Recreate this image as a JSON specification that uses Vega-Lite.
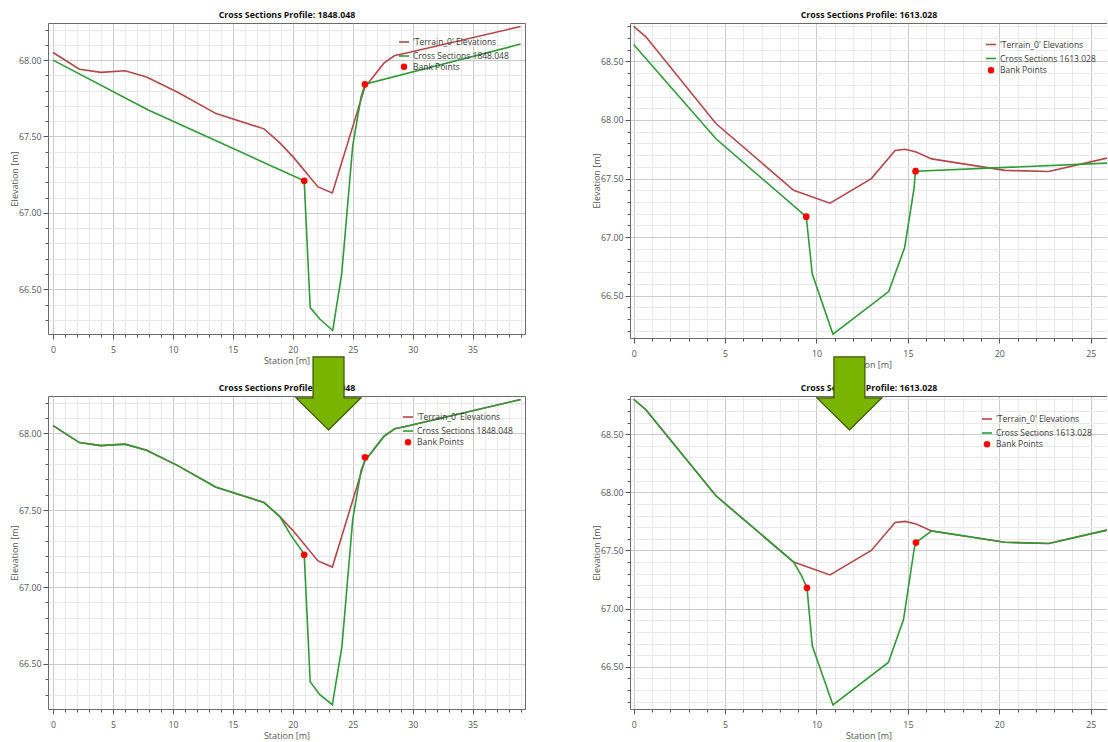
{
  "$schema": "https://vega.github.io/schema/vega-lite/v6.json",
  "background": "white",
  "padding": {"left": 10, "top": 10, "right": 0, "bottom": 0},
  "bounds": "flush",
  "columns": 2,
  "spacing": {"row": 58, "column": 105},
  "resolve": {"scale": {"color": "independent", "shape": "independent"}, "legend": {"color": "independent", "shape": "independent"}},
  "config": {
    "view": {"stroke": null},
    "font": "Open Sans",
    "axis": {"labelFont": "Open Sans", "titleFont": "Open Sans", "labelColor": "#555555", "titleColor": "#555555", "tickColor": "#555555", "domainColor": "#6a6a6a", "labelFontSize": 8.8, "titleFontSize": 9, "titleFontWeight": "normal", "zindex": 0},
    "legend": {"labelFont": "Open Sans", "labelFontSize": 8.5, "labelColor": "#3a3a3a", "rowPadding": 3, "labelOffset": 3, "padding": 0}
  },
  "datasets": {
    "terrain_1848": [
      {"series": "'Terrain_0' Elevations", "station": 0, "elev": 68.05},
      {"series": "'Terrain_0' Elevations", "station": 2.2, "elev": 67.94},
      {"series": "'Terrain_0' Elevations", "station": 4.0, "elev": 67.92},
      {"series": "'Terrain_0' Elevations", "station": 6.0, "elev": 67.93},
      {"series": "'Terrain_0' Elevations", "station": 7.8, "elev": 67.89},
      {"series": "'Terrain_0' Elevations", "station": 10.4, "elev": 67.79},
      {"series": "'Terrain_0' Elevations", "station": 13.6, "elev": 67.65},
      {"series": "'Terrain_0' Elevations", "station": 17.6, "elev": 67.55},
      {"series": "'Terrain_0' Elevations", "station": 18.9, "elev": 67.46},
      {"series": "'Terrain_0' Elevations", "station": 20.1, "elev": 67.36},
      {"series": "'Terrain_0' Elevations", "station": 22.1, "elev": 67.17},
      {"series": "'Terrain_0' Elevations", "station": 23.3, "elev": 67.13},
      {"series": "'Terrain_0' Elevations", "station": 26.0, "elev": 67.82},
      {"series": "'Terrain_0' Elevations", "station": 27.6, "elev": 67.98},
      {"series": "'Terrain_0' Elevations", "station": 28.5, "elev": 68.03},
      {"series": "'Terrain_0' Elevations", "station": 29.4, "elev": 68.045},
      {"series": "'Terrain_0' Elevations", "station": 39.0, "elev": 68.22}
    ],
    "xs_1848_before": [
      {"series": "Cross Sections 1848.048", "station": 0, "elev": 68.0},
      {"series": "Cross Sections 1848.048", "station": 7.9, "elev": 67.675},
      {"series": "Cross Sections 1848.048", "station": 20.95, "elev": 67.21},
      {"series": "Cross Sections 1848.048", "station": 21.45, "elev": 66.38},
      {"series": "Cross Sections 1848.048", "station": 22.25, "elev": 66.305},
      {"series": "Cross Sections 1848.048", "station": 23.33, "elev": 66.23},
      {"series": "Cross Sections 1848.048", "station": 24.08, "elev": 66.6},
      {"series": "Cross Sections 1848.048", "station": 25.0, "elev": 67.44},
      {"series": "Cross Sections 1848.048", "station": 25.7, "elev": 67.76},
      {"series": "Cross Sections 1848.048", "station": 26.02, "elev": 67.842},
      {"series": "Cross Sections 1848.048", "station": 39.0, "elev": 68.105}
    ],
    "bank_1848_before": [
      {"series": "Bank Points", "station": 20.95, "elev": 67.21},
      {"series": "Bank Points", "station": 26.02, "elev": 67.842}
    ],
    "xs_1848_after": [
      {"series": "Cross Sections 1848.048", "station": 0, "elev": 68.05},
      {"series": "Cross Sections 1848.048", "station": 2.2, "elev": 67.94},
      {"series": "Cross Sections 1848.048", "station": 4.0, "elev": 67.92},
      {"series": "Cross Sections 1848.048", "station": 6.0, "elev": 67.93},
      {"series": "Cross Sections 1848.048", "station": 7.8, "elev": 67.89},
      {"series": "Cross Sections 1848.048", "station": 10.4, "elev": 67.79},
      {"series": "Cross Sections 1848.048", "station": 13.6, "elev": 67.65},
      {"series": "Cross Sections 1848.048", "station": 17.6, "elev": 67.55},
      {"series": "Cross Sections 1848.048", "station": 18.9, "elev": 67.46},
      {"series": "Cross Sections 1848.048", "station": 19.9, "elev": 67.33},
      {"series": "Cross Sections 1848.048", "station": 20.95, "elev": 67.215},
      {"series": "Cross Sections 1848.048", "station": 21.45, "elev": 66.385},
      {"series": "Cross Sections 1848.048", "station": 22.25, "elev": 66.3},
      {"series": "Cross Sections 1848.048", "station": 23.3, "elev": 66.235},
      {"series": "Cross Sections 1848.048", "station": 24.1, "elev": 66.615},
      {"series": "Cross Sections 1848.048", "station": 25.0, "elev": 67.44},
      {"series": "Cross Sections 1848.048", "station": 25.7, "elev": 67.76},
      {"series": "Cross Sections 1848.048", "station": 26.0, "elev": 67.82},
      {"series": "Cross Sections 1848.048", "station": 27.6, "elev": 67.98},
      {"series": "Cross Sections 1848.048", "station": 28.5, "elev": 68.03},
      {"series": "Cross Sections 1848.048", "station": 29.4, "elev": 68.045},
      {"series": "Cross Sections 1848.048", "station": 39.0, "elev": 68.22}
    ],
    "bank_1848_after": [
      {"series": "Bank Points", "station": 20.95, "elev": 67.21},
      {"series": "Bank Points", "station": 26.03, "elev": 67.844}
    ],
    "arrow_left": [
      {"station": 22.98, "elev": 68.022}
    ],
    "terrain_1613": [
      {"series": "'Terrain_0' Elevations", "station": 0, "elev": 68.8},
      {"series": "'Terrain_0' Elevations", "station": 0.67, "elev": 68.71},
      {"series": "'Terrain_0' Elevations", "station": 4.5, "elev": 67.97},
      {"series": "'Terrain_0' Elevations", "station": 8.75, "elev": 67.4},
      {"series": "'Terrain_0' Elevations", "station": 10.74, "elev": 67.29},
      {"series": "'Terrain_0' Elevations", "station": 13.0, "elev": 67.5},
      {"series": "'Terrain_0' Elevations", "station": 14.3, "elev": 67.74},
      {"series": "'Terrain_0' Elevations", "station": 14.85, "elev": 67.75},
      {"series": "'Terrain_0' Elevations", "station": 15.45, "elev": 67.727},
      {"series": "'Terrain_0' Elevations", "station": 16.3, "elev": 67.668},
      {"series": "'Terrain_0' Elevations", "station": 20.3, "elev": 67.57},
      {"series": "'Terrain_0' Elevations", "station": 22.7, "elev": 67.56},
      {"series": "'Terrain_0' Elevations", "station": 25.89, "elev": 67.675}
    ],
    "xs_1613_before": [
      {"series": "Cross Sections 1613.028", "station": 0, "elev": 68.645},
      {"series": "Cross Sections 1613.028", "station": 4.5, "elev": 67.84},
      {"series": "Cross Sections 1613.028", "station": 9.44, "elev": 67.175},
      {"series": "Cross Sections 1613.028", "station": 9.77, "elev": 66.685},
      {"series": "Cross Sections 1613.028", "station": 10.9, "elev": 66.172},
      {"series": "Cross Sections 1613.028", "station": 13.95, "elev": 66.535},
      {"series": "Cross Sections 1613.028", "station": 14.82, "elev": 66.91},
      {"series": "Cross Sections 1613.028", "station": 15.33, "elev": 67.41},
      {"series": "Cross Sections 1613.028", "station": 15.42, "elev": 67.563},
      {"series": "Cross Sections 1613.028", "station": 25.89, "elev": 67.632}
    ],
    "bank_1613_before": [
      {"series": "Bank Points", "station": 9.44, "elev": 67.175},
      {"series": "Bank Points", "station": 15.42, "elev": 67.563}
    ],
    "xs_1613_after": [
      {"series": "Cross Sections 1613.028", "station": 0, "elev": 68.8},
      {"series": "Cross Sections 1613.028", "station": 0.67, "elev": 68.71},
      {"series": "Cross Sections 1613.028", "station": 4.5, "elev": 67.97},
      {"series": "Cross Sections 1613.028", "station": 8.75, "elev": 67.4},
      {"series": "Cross Sections 1613.028", "station": 9.19, "elev": 67.28},
      {"series": "Cross Sections 1613.028", "station": 9.48, "elev": 67.18},
      {"series": "Cross Sections 1613.028", "station": 9.77, "elev": 66.68},
      {"series": "Cross Sections 1613.028", "station": 10.9, "elev": 66.172},
      {"series": "Cross Sections 1613.028", "station": 13.93, "elev": 66.537},
      {"series": "Cross Sections 1613.028", "station": 14.76, "elev": 66.906},
      {"series": "Cross Sections 1613.028", "station": 15.34, "elev": 67.51},
      {"series": "Cross Sections 1613.028", "station": 15.44, "elev": 67.568},
      {"series": "Cross Sections 1613.028", "station": 16.3, "elev": 67.668},
      {"series": "Cross Sections 1613.028", "station": 20.3, "elev": 67.57},
      {"series": "Cross Sections 1613.028", "station": 22.7, "elev": 67.56},
      {"series": "Cross Sections 1613.028", "station": 25.89, "elev": 67.675}
    ],
    "bank_1613_after": [
      {"series": "Bank Points", "station": 9.48, "elev": 67.179},
      {"series": "Bank Points", "station": 15.44, "elev": 67.568}
    ],
    "arrow_right": [
      {"station": 11.8, "elev": 68.536}
    ]
  },
  "concat": [
    {
      "width": 477, "height": 311,
      "layer": [
        {
          "data": {"name": "terrain_1848"},
          "mark": {"type": "line", "strokeWidth": 1.6, "clip": true},
          "encoding": {
            "x": {"field": "station", "type": "quantitative", "scale": {"domain": [-0.42, 39.37], "nice": false, "zero": false},
              "axis": {"orient": "bottom", "values": [0,1,2,3,4,5,6,7,8,9,10,11,12,13,14,15,16,17,18,19,20,21,22,23,24,25,26,27,28,29,30,31,32,33,34,35,36,37,38,39], "labels": false, "title": null, "grid": true, "gridColor": "#e9e9e9", "tickSize": 3, "domain": false}},
            "y": {"field": "elev", "type": "quantitative", "scale": {"domain": [66.207, 68.243], "nice": false, "zero": false},
              "axis": {"orient": "left", "values": [66.3,66.4,66.5,66.6,66.7,66.8,66.9,67.0,67.1,67.2,67.3,67.4,67.5,67.6,67.7,67.8,67.9,68.0,68.1,68.2], "labels": false, "title": null, "grid": true, "gridColor": "#e9e9e9", "tickSize": 3, "domain": false}},
            "color": {"field": "series", "type": "nominal",
              "scale": {"domain": ["'Terrain_0' Elevations", "Cross Sections 1848.048"], "range": ["#B4474B", "#2F9B37"]},
              "legend": {"orient": "none", "legendX": 350, "legendY": 13, "title": null, "symbolType": "stroke", "symbolSize": 100, "symbolStrokeWidth": 1.6}}
          }
        },
        {
          "data": {"name": "xs_1848_before"},
          "mark": {"type": "line", "strokeWidth": 1.6, "clip": true},
          "encoding": {
            "x": {"field": "station", "type": "quantitative", "scale": {"domain": [-0.42, 39.37], "nice": false, "zero": false},
              "axis": {"orient": "bottom", "values": [0,5,10,15,20,25,30,35], "grid": true, "gridColor": "#cacaca", "tickSize": 5, "labelPadding": 6, "title": "Station [m]", "titleY": 29.5, "titleBaseline": "alphabetic", "domain": true}},
            "y": {"field": "elev", "type": "quantitative", "scale": {"domain": [66.207, 68.243], "nice": false, "zero": false},
              "axis": {"orient": "left", "values": [66.5,67.0,67.5,68.0], "format": ".2f", "grid": true, "gridColor": "#cacaca", "tickSize": 5, "labelPadding": 2, "title": "Elevation [m]", "titleX": -31, "titleBaseline": "alphabetic", "domain": true}},
            "color": {"field": "series", "type": "nominal", "legend": null}
          }
        },
        {
          "data": {"name": "bank_1848_before"},
          "mark": {"type": "point", "filled": true, "size": 45, "opacity": 1, "color": "#FF0000"},
          "encoding": {
            "x": {"field": "station", "type": "quantitative", "scale": {"domain": [-0.42, 39.37], "nice": false, "zero": false},
              "axis": {"orient": "top", "labels": false, "ticks": false, "grid": false, "domain": true, "title": "Cross Sections Profile: 1848.048", "titleFontWeight": "bold", "titleColor": "#111111", "titleFontSize": 8.8, "titleY": -5.5, "titleBaseline": "alphabetic"}},
            "y": {"field": "elev", "type": "quantitative", "scale": {"domain": [66.207, 68.243], "nice": false, "zero": false},
              "axis": {"orient": "right", "labels": false, "ticks": false, "grid": false, "domain": true, "title": null}},
            "shape": {"field": "series", "type": "nominal", "scale": {"domain": ["Bank Points"], "range": ["circle"]},
              "legend": {"orient": "none", "legendX": 351.75, "legendY": 39.5, "title": null, "symbolSize": 42, "labelOffset": 4.75}}
          }
        }
      ],
      "resolve": {"axis": {"x": "independent", "y": "independent"}}
    },
    {
      "width": 477, "height": 315,
      "layer": [
        {
          "data": {"name": "terrain_1613"},
          "mark": {"type": "line", "strokeWidth": 1.6, "clip": true},
          "encoding": {
            "x": {"field": "station", "type": "quantitative", "scale": {"domain": [-0.2, 25.89], "nice": false, "zero": false},
              "axis": {"orient": "bottom", "values": [0,1,2,3,4,5,6,7,8,9,10,11,12,13,14,15,16,17,18,19,20,21,22,23,24,25], "labels": false, "title": null, "grid": true, "gridColor": "#e9e9e9", "tickSize": 3, "domain": false}},
            "y": {"field": "elev", "type": "quantitative", "scale": {"domain": [66.139, 68.828], "nice": false, "zero": false},
              "axis": {"orient": "left", "values": [66.2,66.3,66.4,66.5,66.6,66.7,66.8,66.9,67.0,67.1,67.2,67.3,67.4,67.5,67.6,67.7,67.8,67.9,68.0,68.1,68.2,68.3,68.4,68.5,68.6,68.7,68.8], "labels": false, "title": null, "grid": true, "gridColor": "#e9e9e9", "tickSize": 3, "domain": false}},
            "color": {"field": "series", "type": "nominal",
              "scale": {"domain": ["'Terrain_0' Elevations", "Cross Sections 1613.028"], "range": ["#B4474B", "#2F9B37"]},
              "legend": {"orient": "none", "legendX": 355, "legendY": 15.5, "title": null, "symbolType": "stroke", "symbolSize": 100, "symbolStrokeWidth": 1.6}}
          }
        },
        {
          "data": {"name": "xs_1613_before"},
          "mark": {"type": "line", "strokeWidth": 1.6, "clip": true},
          "encoding": {
            "x": {"field": "station", "type": "quantitative", "scale": {"domain": [-0.2, 25.89], "nice": false, "zero": false},
              "axis": {"orient": "bottom", "values": [0,5,10,15,20,25], "grid": true, "gridColor": "#cacaca", "tickSize": 5, "labelPadding": 6, "title": "Station [m]", "titleY": 29.5, "titleBaseline": "alphabetic", "domain": true}},
            "y": {"field": "elev", "type": "quantitative", "scale": {"domain": [66.139, 68.828], "nice": false, "zero": false},
              "axis": {"orient": "left", "values": [66.5,67.0,67.5,68.0,68.5], "format": ".2f", "grid": true, "gridColor": "#cacaca", "tickSize": 5, "labelPadding": 2, "title": "Elevation [m]", "titleX": -31, "titleBaseline": "alphabetic", "domain": true}},
            "color": {"field": "series", "type": "nominal", "legend": null}
          }
        },
        {
          "data": {"name": "bank_1613_before"},
          "mark": {"type": "point", "filled": true, "size": 45, "opacity": 1, "color": "#FF0000"},
          "encoding": {
            "x": {"field": "station", "type": "quantitative", "scale": {"domain": [-0.2, 25.89], "nice": false, "zero": false},
              "axis": {"orient": "top", "labels": false, "ticks": false, "grid": false, "domain": true, "title": "Cross Sections Profile: 1613.028", "titleFontWeight": "bold", "titleColor": "#111111", "titleFontSize": 8.8, "titleY": -5.5, "titleBaseline": "alphabetic"}},
            "y": {"field": "elev", "type": "quantitative", "scale": {"domain": [66.139, 68.828], "nice": false, "zero": false}, "axis": null},
            "shape": {"field": "series", "type": "nominal", "scale": {"domain": ["Bank Points"], "range": ["circle"]},
              "legend": {"orient": "none", "legendX": 356.75, "legendY": 43, "title": null, "symbolSize": 42, "labelOffset": 4.75}}
          }
        }
      ],
      "resolve": {"axis": {"x": "independent", "y": "independent"}}
    },
    {
      "width": 477, "height": 313,
      "layer": [
        {
          "data": {"name": "terrain_1848"},
          "mark": {"type": "line", "strokeWidth": 1.6, "clip": true},
          "encoding": {
            "x": {"field": "station", "type": "quantitative", "scale": {"domain": [-0.42, 39.37], "nice": false, "zero": false},
              "axis": {"orient": "bottom", "values": [0,1,2,3,4,5,6,7,8,9,10,11,12,13,14,15,16,17,18,19,20,21,22,23,24,25,26,27,28,29,30,31,32,33,34,35,36,37,38,39], "labels": false, "title": null, "grid": true, "gridColor": "#e9e9e9", "tickSize": 3, "domain": false}},
            "y": {"field": "elev", "type": "quantitative", "scale": {"domain": [66.207, 68.243], "nice": false, "zero": false},
              "axis": {"orient": "left", "values": [66.3,66.4,66.5,66.6,66.7,66.8,66.9,67.0,67.1,67.2,67.3,67.4,67.5,67.6,67.7,67.8,67.9,68.0,68.1,68.2], "labels": false, "title": null, "grid": true, "gridColor": "#e9e9e9", "tickSize": 3, "domain": false}},
            "color": {"field": "series", "type": "nominal",
              "scale": {"domain": ["'Terrain_0' Elevations", "Cross Sections 1848.048"], "range": ["#B4474B", "#2F9B37"]},
              "legend": {"orient": "none", "legendX": 354, "legendY": 15, "title": null, "symbolType": "stroke", "symbolSize": 100, "symbolStrokeWidth": 1.6}}
          }
        },
        {
          "data": {"name": "xs_1848_after"},
          "mark": {"type": "line", "strokeWidth": 1.6, "clip": true},
          "encoding": {
            "x": {"field": "station", "type": "quantitative", "scale": {"domain": [-0.42, 39.37], "nice": false, "zero": false},
              "axis": {"orient": "bottom", "values": [0,5,10,15,20,25,30,35], "grid": true, "gridColor": "#cacaca", "tickSize": 5, "labelPadding": 6, "title": "Station [m]", "titleY": 29.5, "titleBaseline": "alphabetic", "domain": true}},
            "y": {"field": "elev", "type": "quantitative", "scale": {"domain": [66.207, 68.243], "nice": false, "zero": false},
              "axis": {"orient": "left", "values": [66.5,67.0,67.5,68.0], "format": ".2f", "grid": true, "gridColor": "#cacaca", "tickSize": 5, "labelPadding": 2, "title": "Elevation [m]", "titleX": -31, "titleBaseline": "alphabetic", "domain": true}},
            "color": {"field": "series", "type": "nominal", "legend": null}
          }
        },
        {
          "data": {"name": "bank_1848_after"},
          "mark": {"type": "point", "filled": true, "size": 45, "opacity": 1, "color": "#FF0000"},
          "encoding": {
            "x": {"field": "station", "type": "quantitative", "scale": {"domain": [-0.42, 39.37], "nice": false, "zero": false},
              "axis": {"orient": "top", "labels": false, "ticks": false, "grid": false, "domain": true, "title": "Cross Sections Profile: 1848.048", "titleFontWeight": "bold", "titleColor": "#111111", "titleFontSize": 8.8, "titleY": -6, "titleBaseline": "alphabetic"}},
            "y": {"field": "elev", "type": "quantitative", "scale": {"domain": [66.207, 68.243], "nice": false, "zero": false},
              "axis": {"orient": "right", "labels": false, "ticks": false, "grid": false, "domain": true, "title": null}},
            "shape": {"field": "series", "type": "nominal", "scale": {"domain": ["Bank Points"], "range": ["circle"]},
              "legend": {"orient": "none", "legendX": 355.75, "legendY": 42, "title": null, "symbolSize": 42, "labelOffset": 4.75}}
          }
        },
        {
          "data": {"name": "arrow_left"},
          "mark": {"type": "point", "shape": "M0,0L32.5,-32L15.5,-32L15.5,-73L-15.5,-73L-15.5,-32L-32.5,-32Z", "size": 4, "filled": true, "fill": "#78B400", "stroke": "#3C5500", "strokeWidth": 1.2, "opacity": 1, "clip": false},
          "encoding": {
            "x": {"field": "station", "type": "quantitative", "scale": {"domain": [-0.42, 39.37], "nice": false, "zero": false}, "axis": null},
            "y": {"field": "elev", "type": "quantitative", "scale": {"domain": [66.207, 68.243], "nice": false, "zero": false}, "axis": null}
          }
        }
      ],
      "resolve": {"axis": {"x": "independent", "y": "independent"}}
    },
    {
      "width": 477, "height": 313,
      "layer": [
        {
          "data": {"name": "terrain_1613"},
          "mark": {"type": "line", "strokeWidth": 1.6, "clip": true},
          "encoding": {
            "x": {"field": "station", "type": "quantitative", "scale": {"domain": [-0.2, 25.89], "nice": false, "zero": false},
              "axis": {"orient": "bottom", "values": [0,1,2,3,4,5,6,7,8,9,10,11,12,13,14,15,16,17,18,19,20,21,22,23,24,25], "labels": false, "title": null, "grid": true, "gridColor": "#e9e9e9", "tickSize": 3, "domain": false}},
            "y": {"field": "elev", "type": "quantitative", "scale": {"domain": [66.137, 68.828], "nice": false, "zero": false},
              "axis": {"orient": "left", "values": [66.2,66.3,66.4,66.5,66.6,66.7,66.8,66.9,67.0,67.1,67.2,67.3,67.4,67.5,67.6,67.7,67.8,67.9,68.0,68.1,68.2,68.3,68.4,68.5,68.6,68.7,68.8], "labels": false, "title": null, "grid": true, "gridColor": "#e9e9e9", "tickSize": 3, "domain": false}},
            "color": {"field": "series", "type": "nominal",
              "scale": {"domain": ["'Terrain_0' Elevations", "Cross Sections 1613.028"], "range": ["#B4474B", "#2F9B37"]},
              "legend": {"orient": "none", "legendX": 351, "legendY": 17, "title": null, "symbolType": "stroke", "symbolSize": 100, "symbolStrokeWidth": 1.6}}
          }
        },
        {
          "data": {"name": "xs_1613_after"},
          "mark": {"type": "line", "strokeWidth": 1.6, "clip": true},
          "encoding": {
            "x": {"field": "station", "type": "quantitative", "scale": {"domain": [-0.2, 25.89], "nice": false, "zero": false},
              "axis": {"orient": "bottom", "values": [0,5,10,15,20,25], "grid": true, "gridColor": "#cacaca", "tickSize": 5, "labelPadding": 6, "title": "Station [m]", "titleY": 29.5, "titleBaseline": "alphabetic", "domain": true}},
            "y": {"field": "elev", "type": "quantitative", "scale": {"domain": [66.137, 68.828], "nice": false, "zero": false},
              "axis": {"orient": "left", "values": [66.5,67.0,67.5,68.0,68.5], "format": ".2f", "grid": true, "gridColor": "#cacaca", "tickSize": 5, "labelPadding": 2, "title": "Elevation [m]", "titleX": -31, "titleBaseline": "alphabetic", "domain": true}},
            "color": {"field": "series", "type": "nominal", "legend": null}
          }
        },
        {
          "data": {"name": "bank_1613_after"},
          "mark": {"type": "point", "filled": true, "size": 45, "opacity": 1, "color": "#FF0000"},
          "encoding": {
            "x": {"field": "station", "type": "quantitative", "scale": {"domain": [-0.2, 25.89], "nice": false, "zero": false},
              "axis": {"orient": "top", "labels": false, "ticks": false, "grid": false, "domain": true, "title": "Cross Sections Profile: 1613.028", "titleFontWeight": "bold", "titleColor": "#111111", "titleFontSize": 8.8, "titleY": -6, "titleBaseline": "alphabetic"}},
            "y": {"field": "elev", "type": "quantitative", "scale": {"domain": [66.137, 68.828], "nice": false, "zero": false}, "axis": null},
            "shape": {"field": "series", "type": "nominal", "scale": {"domain": ["Bank Points"], "range": ["circle"]},
              "legend": {"orient": "none", "legendX": 352.75, "legendY": 44, "title": null, "symbolSize": 42, "labelOffset": 4.75}}
          }
        },
        {
          "data": {"name": "arrow_right"},
          "mark": {"type": "point", "shape": "M0,0L32.5,-32L15.5,-32L15.5,-73L-15.5,-73L-15.5,-32L-32.5,-32Z", "size": 4, "filled": true, "fill": "#78B400", "stroke": "#3C5500", "strokeWidth": 1.2, "opacity": 1, "clip": false},
          "encoding": {
            "x": {"field": "station", "type": "quantitative", "scale": {"domain": [-0.2, 25.89], "nice": false, "zero": false}, "axis": null},
            "y": {"field": "elev", "type": "quantitative", "scale": {"domain": [66.137, 68.828], "nice": false, "zero": false}, "axis": null}
          }
        }
      ],
      "resolve": {"axis": {"x": "independent", "y": "independent"}}
    }
  ]
}
